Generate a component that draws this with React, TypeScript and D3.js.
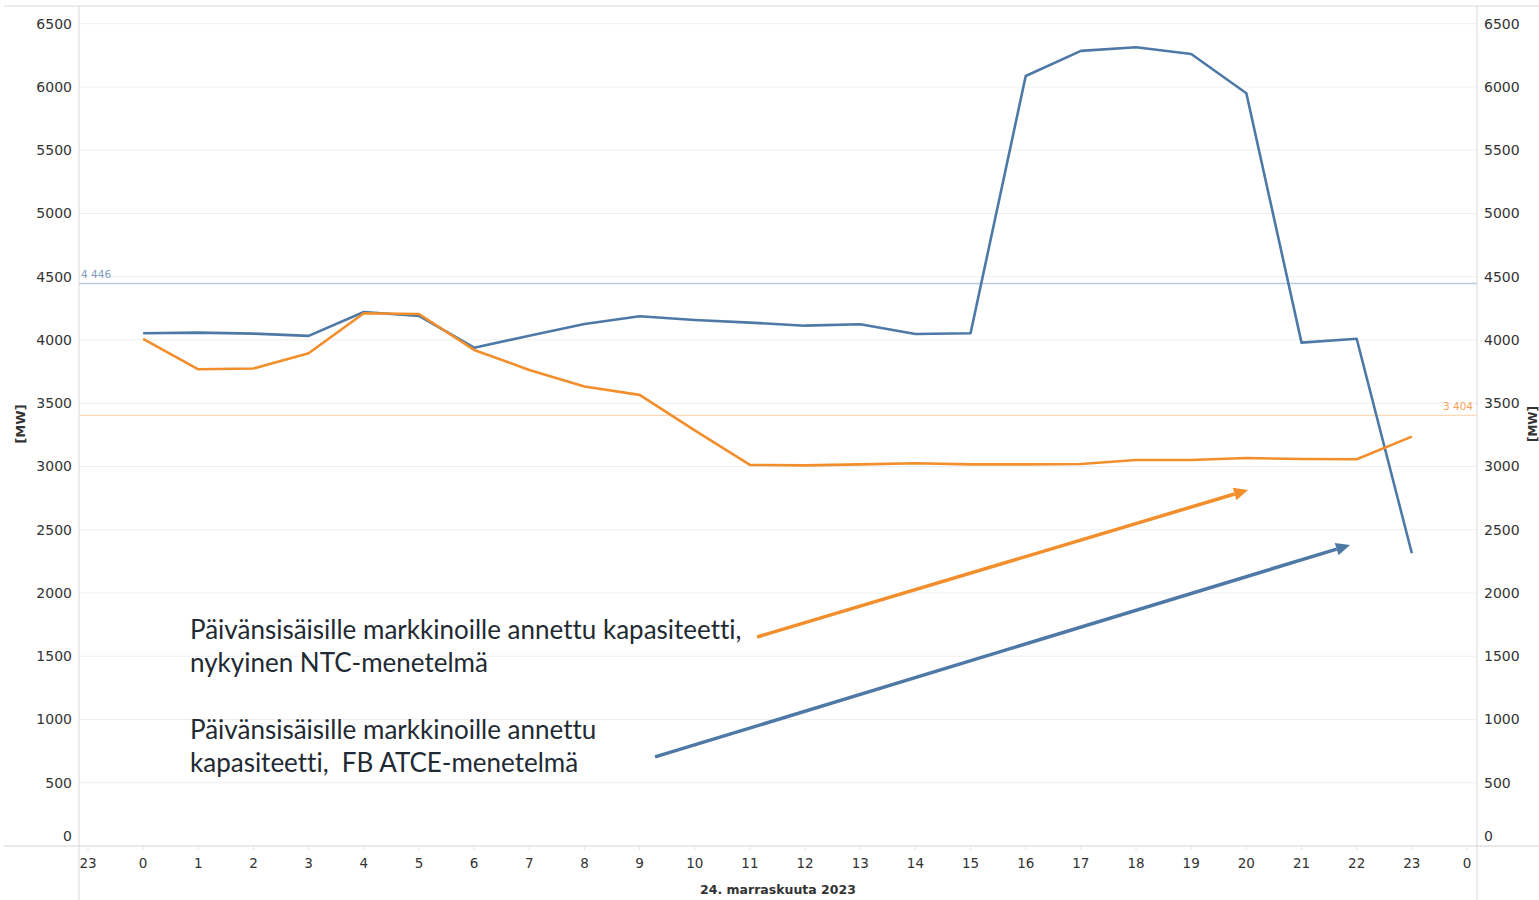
import React from "react";
import * as d3 from "d3";

// Hour of day, 24. marraskuuta 2023
const hours = [0, 1, 2, 3, 4, 5, 6, 7, 8, 9, 10, 11, 12, 13, 14, 15, 16, 17, 18, 19, 20, 21, 22, 23];

// Intraday capacity, FB ATCE method [MW]
const atceValues = [
  4053, 4058, 4050, 4032, 4221, 4190, 3939, 4034, 4126, 4188, 4158, 4137,
  4113, 4124, 4047, 4053, 6087, 6285, 6314, 6261, 5950, 3979, 4010, 2314,
];

// Intraday capacity, current NTC method [MW]
const ntcValues = [
  4008, 3768, 3774, 3895, 4211, 4205, 3921, 3763, 3632, 3566, 3285, 3012,
  3009, 3017, 3025, 3017, 3017, 3020, 3051, 3051, 3067, 3059, 3057, 3236,
];

// Average reference lines
const atceAverage = 4446;
const ntcAverage = 3404;

// Axis ticks
const yTicks = [0, 500, 1000, 1500, 2000, 2500, 3000, 3500, 4000, 4500, 5000, 5500, 6000, 6500];
const xTickPositions = [-1, 0, 1, 2, 3, 4, 5, 6, 7, 8, 9, 10, 11, 12, 13, 14, 15, 16, 17, 18, 19, 20, 21, 22, 23, 24];
const xTickLabels = ["23", "0", "1", "2", "3", "4", "5", "6", "7", "8", "9", "10", "11", "12", "13", "14", "15", "16", "17", "18", "19", "20", "21", "22", "23", "0"];

// Annotation arrows in data space: [hour, MW]
const ntcArrow = { from: [11.13, 1652], to: [20.03, 2814] };
const atceArrow = { from: [9.28, 704], to: [21.88, 2379] };

const ntcNote = ["Päivänsisäisille markkinoille annettu kapasiteetti,", "nykyinen NTC-menetelmä"];
const atceNote = ["Päivänsisäisille markkinoille annettu", "kapasiteetti,\u00a0 FB ATCE-menetelmä"];

const W = 1539;
const H = 900;
const plotLeft = 79;
const plotRight = 1477;
const plotTop = 6;
const axisY = 846;

const BLUE = "#4e79a7";
const ORANGE = "#f28e2b";
const FONT = "'DejaVu Sans', Verdana, sans-serif";

export default function App() {
  const x = d3.scaleLinear().domain([-1, 24]).range([88, 1467]);
  const y = d3.scaleLinear().domain([0, 6500]).range([axisY, 23.7]);

  const line = d3
    .line<number>()
    .x((_, i) => x(hours[i]))
    .y((v) => y(v));

  const arrowLine = (a: { from: number[]; to: number[] }) => {
    const x1 = x(a.from[0]);
    const y1 = y(a.from[1]);
    const x2 = x(a.to[0]);
    const y2 = y(a.to[1]);
    const ang = Math.atan2(y2 - y1, x2 - x1);
    const len = 14;
    const half = 6.5;
    const bx = x2 - len * Math.cos(ang);
    const by = y2 - len * Math.sin(ang);
    const px = -Math.sin(ang);
    const py = Math.cos(ang);
    return {
      shaft: `M${x1},${y1}L${bx},${by}`,
      head: `M${x2},${y2}L${bx + half * px},${by + half * py}L${bx - half * px},${by - half * py}Z`,
    };
  };

  const ntcA = arrowLine(ntcArrow);
  const atceA = arrowLine(atceArrow);

  return (
    <svg
      width={W}
      height={H}
      style={{ position: "absolute", left: 0, top: 0, background: "#fff" }}
    >
      {/* gridlines */}
      {yTicks
        .filter((t) => t > 0)
        .map((t) => (
          <line key={t} x1={plotLeft} x2={plotRight} y1={y(t)} y2={y(t)} stroke="#efefef" strokeWidth={1} />
        ))}

      {/* frame */}
      <line x1={4} x2={W} y1={plotTop} y2={plotTop} stroke="#d9d9d9" strokeWidth={1} />
      <line x1={4} x2={W} y1={axisY} y2={axisY} stroke="#d4d4d4" strokeWidth={1.2} />
      <line x1={plotLeft} x2={plotLeft} y1={plotTop} y2={H} stroke="#d9d9d9" strokeWidth={1} />
      <line x1={plotRight} x2={plotRight} y1={plotTop} y2={H} stroke="#d9d9d9" strokeWidth={1} />

      {/* x ticks */}
      {xTickPositions.map((p, i) => (
        <g key={i}>
          <line x1={x(p)} x2={x(p)} y1={axisY} y2={axisY + 4} stroke="#e3e3e3" />
          <text x={x(p)} y={868} textAnchor="middle" fontFamily={FONT} fontSize={13.5} fill="#333">
            {xTickLabels[i]}
          </text>
        </g>
      ))}
      <text x={778} y={894} textAnchor="middle" fontFamily={FONT} fontSize={12.5} fontWeight="bold" fill="#333">
        24. marraskuuta 2023
      </text>

      {/* y axes */}
      {yTicks.map((t) => (
        <g key={t}>
          <text
            x={72}
            y={t === 0 ? y(t) - 5 : y(t) + 5}
            textAnchor="end"
            fontFamily={FONT}
            fontSize={14}
            fill="#333"
          >
            {t}
          </text>
          <text
            x={1484}
            y={t === 0 ? y(t) - 5 : y(t) + 5}
            textAnchor="start"
            fontFamily={FONT}
            fontSize={14}
            fill="#333"
          >
            {t}
          </text>
        </g>
      ))}
      <text
        transform={`translate(25,424) rotate(-90)`}
        textAnchor="middle"
        fontFamily={FONT}
        fontSize={13}
        fontWeight="bold"
        fill="#333"
      >
        [MW]
      </text>
      <text
        transform={`translate(1537,424) rotate(-90)`}
        textAnchor="middle"
        fontFamily={FONT}
        fontSize={12}
        fontWeight="bold"
        fill="#333"
      >
        [MW]
      </text>

      {/* average reference lines */}
      <line x1={plotLeft} x2={plotRight} y1={y(atceAverage)} y2={y(atceAverage)} stroke="#b9cbe0" strokeWidth={1.6} />
      <text x={81} y={y(atceAverage) - 6} fontFamily={FONT} fontSize={10.5} fill="#7f9dc4">
        4 446
      </text>
      <line x1={plotLeft} x2={plotRight} y1={y(ntcAverage)} y2={y(ntcAverage)} stroke="#fbd9b8" strokeWidth={1.4} />
      <text x={1473} y={y(ntcAverage) - 5} textAnchor="end" fontFamily={FONT} fontSize={10.5} fill="#f5a35a">
        3 404
      </text>

      {/* series */}
      <path d={line(atceValues) || ""} fill="none" stroke={BLUE} strokeWidth={2.6} strokeLinejoin="round" />
      <path d={line(ntcValues) || ""} fill="none" stroke={ORANGE} strokeWidth={2.6} strokeLinejoin="round" />

      {/* annotations */}
      <path d={ntcA.shaft} stroke={ORANGE} strokeWidth={3.5} fill="none" />
      <path d={ntcA.head} fill={ORANGE} />
      <path d={atceA.shaft} stroke={BLUE} strokeWidth={3.5} fill="none" />
      <path d={atceA.head} fill={BLUE} />

      <g
        fontFamily="Lato, 'Open Sans', sans-serif"
        fontSize={26}
        fill="#1f2a33"
        style={{ fontVariantLigatures: "none", fontFeatureSettings: "'liga' 0" }}
      >
        <text x={190} y={639}>{ntcNote[0]}</text>
        <text x={190} y={672}>{ntcNote[1]}</text>
        <text x={190} y={739}>{atceNote[0]}</text>
        <text x={190} y={772}>{atceNote[1]}</text>
      </g>
    </svg>
  );
}
